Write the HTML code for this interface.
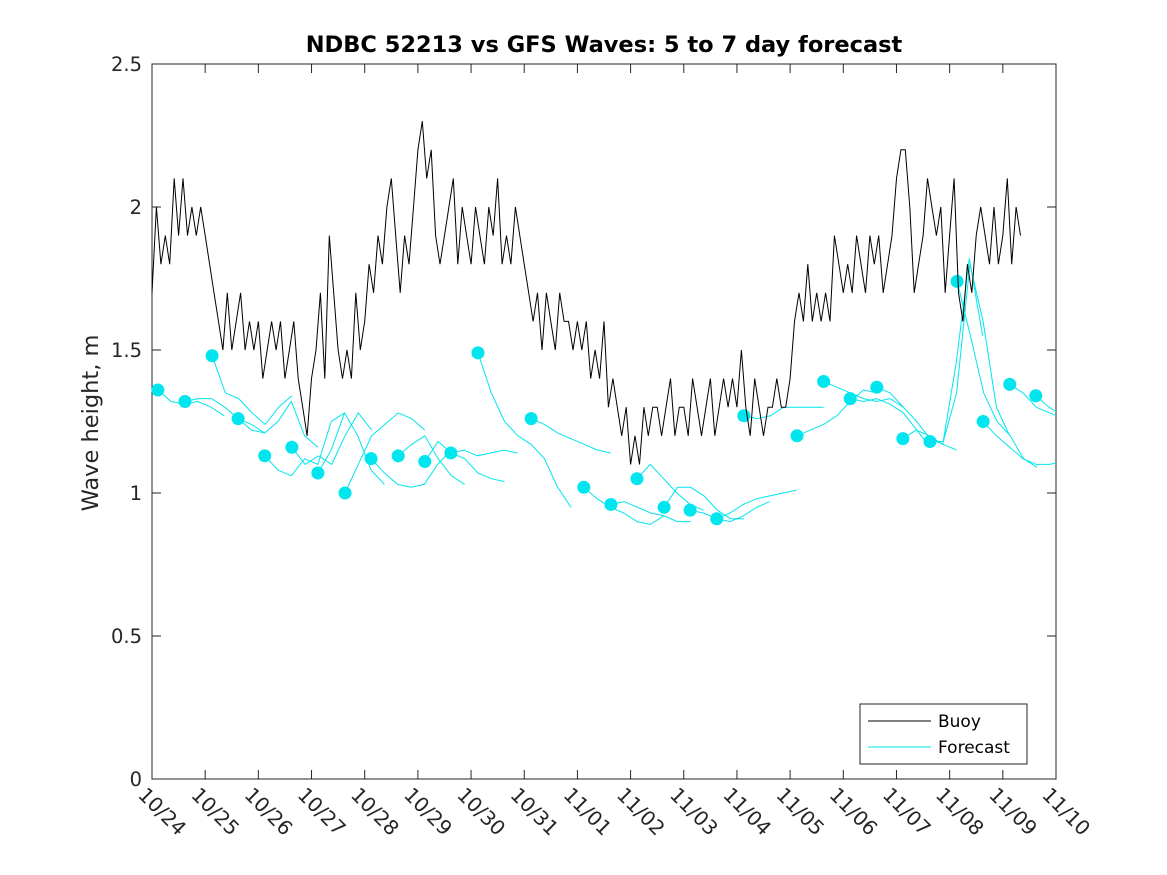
<!DOCTYPE html>
<html><head><meta charset="utf-8">
<style>
body{margin:0;background:#fff;}
svg{display:block;font-family:"DejaVu Sans","Liberation Sans",sans-serif;}
</style></head>
<body>
<svg id="chart" width="1167" height="875" viewBox="0 0 1167 875">
<rect x="0" y="0" width="1167" height="875" fill="#fff"/>
<text x="604" y="52" text-anchor="middle" font-size="22.5" font-weight="bold" fill="#000">NDBC 52213 vs GFS Waves: 5 to 7 day forecast</text>
<rect x="152" y="64" width="904" height="715" fill="none" stroke="#262626" stroke-width="1"/>
<g id="yticks"></g>
<g id="xticks"></g>
<text transform="translate(98,423) rotate(-90)" text-anchor="middle" font-size="22.5" fill="#262626">Wave height, m</text>
<g id="series"></g>
<g>
<rect x="860" y="704" width="167" height="60" fill="#fff" stroke="#262626" stroke-width="1"/>
<line x1="868" y1="721" x2="931" y2="721" stroke="#000" stroke-width="1"/>
<text x="938" y="727" font-size="17" fill="#000">Buoy</text>
<line x1="868" y1="747" x2="931" y2="747" stroke="#00e5ee" stroke-width="1"/>
<text x="938" y="753" font-size="17" fill="#000">Forecast</text>
</g>
</svg>
<script>
const xTickLabels=["10/24","10/25","10/26","10/27","10/28","10/29","10/30","10/31","11/01","11/02","11/03","11/04","11/05","11/06","11/07","11/08","11/09","11/10"];
const yTickValues=[0,0.5,1,1.5,2,2.5];
const yTickLabels=["0","0.5","1","1.5","2","2.5"];
const buoyStep=1/12;
const buoyValues=[
1.7,2.0,1.8,1.9,1.8,2.1,1.9,2.1,1.9,2.0,1.9,2.0,
1.9,1.8,1.7,1.6,1.5,1.7,1.5,1.6,1.7,1.5,1.6,1.5,
1.6,1.4,1.5,1.6,1.5,1.6,1.4,1.5,1.6,1.4,1.3,1.2,
1.4,1.5,1.7,1.4,1.9,1.7,1.5,1.4,1.5,1.4,1.7,1.5,
1.6,1.8,1.7,1.9,1.8,2.0,2.1,1.9,1.7,1.9,1.8,2.0,
2.2,2.3,2.1,2.2,1.9,1.8,1.9,2.0,2.1,1.8,2.0,1.9,
1.8,2.0,1.9,1.8,2.0,1.9,2.1,1.8,1.9,1.8,2.0,1.9,
1.8,1.7,1.6,1.7,1.5,1.7,1.6,1.5,1.7,1.6,1.6,1.5,
1.6,1.5,1.6,1.4,1.5,1.4,1.6,1.3,1.4,1.3,1.2,1.3,
1.1,1.2,1.1,1.3,1.2,1.3,1.3,1.2,1.3,1.4,1.2,1.3,
1.3,1.2,1.4,1.3,1.2,1.3,1.4,1.2,1.3,1.4,1.3,1.4,
1.3,1.5,1.3,1.2,1.4,1.3,1.2,1.3,1.3,1.4,1.3,1.3,
1.4,1.6,1.7,1.6,1.8,1.6,1.7,1.6,1.7,1.6,1.9,1.8,
1.7,1.8,1.7,1.9,1.8,1.7,1.9,1.8,1.9,1.7,1.8,1.9,
2.1,2.2,2.2,2.0,1.7,1.8,1.9,2.1,2.0,1.9,2.0,1.7,
1.9,2.1,1.7,1.6,1.8,1.7,1.9,2.0,1.9,1.8,2.0,1.8,
1.9,2.1,1.8,2.0,1.9];
const forecastStep=0.25;
const forecastStarts=[0.11,0.62,1.13,1.62,2.12,2.63,3.12,3.63,4.12,4.63,5.13,5.62,6.13,7.13,8.12,8.63,9.12,9.63,10.12,10.62,11.13,12.13,12.63,13.13,13.63,14.12,14.63,15.14,15.63,16.13,16.62];
const forecastValues=[
[1.36,1.32,1.31,1.32,1.30,1.27],
[1.32,1.33,1.33,1.30,1.26,1.22,1.21],
[1.48,1.35,1.33,1.28,1.24,1.30,1.34],
[1.26,1.24,1.21,1.25,1.32,1.20,1.16],
[1.13,1.08,1.06,1.12,1.10,1.25,1.28],
[1.16,1.10,1.13,1.10,1.20,1.28,1.22],
[1.07,1.15,1.28,1.20,1.08,1.03],
[1.00,1.10,1.20,1.24,1.28,1.26,1.22],
[1.12,1.07,1.03,1.02,1.03,1.10,1.15],
[1.13,1.17,1.20,1.12,1.06,1.03],
[1.11,1.18,1.14,1.12,1.07,1.05,1.04],
[1.14,1.15,1.13,1.14,1.15,1.14],
[1.49,1.35,1.25,1.20,1.17,1.12,1.02,0.95],
[1.26,1.24,1.21,1.19,1.17,1.15,1.14],
[1.02,0.98,0.95,0.93,0.90,0.89,0.92],
[0.96,0.97,0.95,0.93,0.92,0.90,0.90],
[1.05,1.10,1.05,1.00,0.96,0.94],
[0.95,1.02,1.02,0.99,0.94,0.91,0.91],
[0.94,0.93,0.91,0.90,0.92,0.95,0.97],
[0.91,0.93,0.96,0.98,0.99,1.00,1.01],
[1.27,1.26,1.27,1.30,1.30,1.30,1.30],
[1.20,1.22,1.24,1.27,1.32,1.36,1.35],
[1.39,1.37,1.35,1.33,1.32,1.33,1.30],
[1.33,1.32,1.33,1.31,1.28,1.22,1.16],
[1.37,1.35,1.30,1.25,1.19,1.17,1.15],
[1.19,1.22,1.20,1.17,1.45,1.82,1.55],
[1.18,1.18,1.35,1.80,1.60,1.30,1.20],
[1.74,1.55,1.35,1.25,1.20,1.12,1.09],
[1.25,1.20,1.16,1.12,1.10,1.10,1.11],
[1.38,1.35,1.30,1.28,1.26],
[1.34,1.30,1.27,1.26]];

const NS="http://www.w3.org/2000/svg";
const X0=152,X1=1056,Y0=779,Y1=64,DAYS=17,YMAX=2.5;
function xs(d){return X0+(X1-X0)*d/DAYS;}
function ys(v){return Y0-(Y0-Y1)*v/YMAX;}
function mk(tag,attrs,parent){const e=document.createElementNS(NS,tag);for(const k in attrs)e.setAttribute(k,attrs[k]);parent.appendChild(e);return e;}

const yg=document.getElementById('yticks');
yTickValues.forEach((v,i)=>{
  const y=ys(v);
  const t1=mk('line',{x1:X0,y1:y,x2:X0+9,y2:y,stroke:'#262626'},yg);
  
  
  const t2=mk('line',{x1:X1,y1:y,x2:X1-9,y2:y,stroke:'#262626'},yg);
  
  
  const tx=mk('text',{x:X0-10,y:y+7,'text-anchor':'end','font-size':'19.5',fill:'#262626'},yg);
  tx.textContent=yTickLabels[i];
  
  
});
const xg=document.getElementById('xticks');
xTickLabels.forEach((lab,i)=>{
  const x=xs(i);
  const t1=mk('line',{x1:x,y1:Y0,x2:x,y2:Y0-9,stroke:'#262626'},xg);
  
  
  const t2=mk('line',{x1:x,y1:Y1,x2:x,y2:Y1+9,stroke:'#262626'},xg);
  
  
  const tx=mk('text',{transform:`translate(${x-15},${Y0+17}) rotate(45)`,'text-anchor':'start','font-size':'20',fill:'#262626'},xg);
  tx.textContent=lab;
  
  
});

const sg=document.getElementById('series');
const clip=mk('clipPath',{id:'pc'},sg);
mk('rect',{x:X0,y:Y1,width:X1-X0,height:Y0-Y1},clip);

forecastValues.forEach((seg,i)=>{
  const pts=seg.map((v,j)=>xs(forecastStarts[i]+j*forecastStep).toFixed(1)+','+ys(v).toFixed(1)).join(' ');
  const pl=mk('polyline',{points:pts,fill:'none',stroke:'#00e5ee','stroke-width':'1','clip-path':'url(#pc)'},sg);
  
  
});
forecastValues.forEach((seg,i)=>{
  const c=mk('circle',{cx:xs(forecastStarts[i]),cy:ys(seg[0]),r:6.5,fill:'#00e5ee'},sg);
  
  
});
const bpts=buoyValues.map((v,j)=>xs(j*buoyStep).toFixed(1)+','+ys(v).toFixed(1)).join(' ');
const bl=mk('polyline',{points:bpts,fill:'none',stroke:'#000','stroke-width':'1'},sg);


</script>
</body></html>
